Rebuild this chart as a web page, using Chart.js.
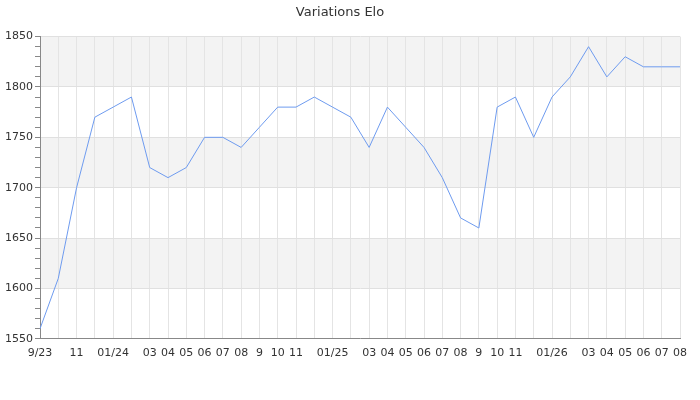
<!DOCTYPE html>
<html>
<head>
<meta charset="utf-8">
<script src="https://cdn.jsdelivr.net/npm/chart.js@4"></script>
<style>
  html, body { margin: 0; padding: 0; background: #fff; }
</style>
</head>
<body>
<canvas id="eloChart" width="700" height="400"></canvas>
<script>
// Month labels (blank ones are months the original leaves unlabelled)
const monthLabels = ["9/23", "", "11", "", "01/24", "", "03", "04", "05", "06", "07", "08",
    "9", "10", "11", "", "01/25", "", "03", "04", "05", "06", "07", "08",
    "9", "10", "11", "", "01/26", "", "03", "04", "05", "06", "07", "08"];

// Elo rating at each month
const eloValues = [1560, 1610, 1700, 1770, 1780, 1790, 1720, 1710, 1720, 1750, 1750, 1740,
    1760, 1780, 1780, 1790, 1780, 1770, 1740, 1780, 1760, 1740, 1710, 1670,
    1660, 1780, 1790, 1750, 1790, 1810, 1840, 1810, 1830, 1820, 1820, 1820];

// y range and the shaded bands
const yMin = 1550;
const yMax = 1850;
const shadedBands = [[1800, 1850], [1700, 1750], [1600, 1650]];

// draws the grey horizontal stripes behind the line
const bandPlugin = {
    id: 'bands',
    beforeDraw(chart) {
        const { ctx, chartArea, scales } = chart;
        ctx.save();
        ctx.fillStyle = '#f3f3f3';
        shadedBands.forEach(([lo, hi]) => {
            const top = scales.y.getPixelForValue(hi);
            const bottom = scales.y.getPixelForValue(lo);
            ctx.fillRect(chartArea.left, top, chartArea.right - chartArea.left, bottom - top);
        });
        ctx.restore();
    }
};

Chart.defaults.font.family = "'DejaVu Sans', sans-serif";
Chart.defaults.color = '#333';

const ctx = document.getElementById('eloChart').getContext('2d');
new Chart(ctx, {
    type: 'line',
    data: {
        labels: monthLabels,
        datasets: [{
            label: 'Elo',
            data: eloValues,
            borderColor: '#6e9bef',
            borderWidth: 1,
            pointRadius: 0,
            tension: 0,
            fill: false
        }]
    },
    options: {
        responsive: false,
        animation: false,
        devicePixelRatio: 1,
        layout: { padding: { left: 0, right: 20, top: 0, bottom: 32 } },
        plugins: {
            legend: { display: false },
            tooltip: { enabled: false },
            title: {
                display: true,
                text: 'Variations Elo',
                color: '#333',
                font: { size: 13, weight: 'normal' },
                padding: { top: 5, bottom: 16 }
            }
        },
        scales: {
            x: {
                offset: false,
                grid: {
                    color: '#e4e4e4',
                    drawTicks: false
                },
                border: { color: '#888' },
                ticks: {
                    autoSkip: false,
                    maxRotation: 0,
                    minRotation: 0,
                    padding: 8,
                    font: { size: 11 },
                    color: '#333'
                }
            },
            y: {
                min: yMin,
                max: yMax,
                afterFit(scale) { scale.width = 40; },
                grid: {
                    color: (c) => (c.tick && c.tick.value % 50 === 0) ? '#e0e0e0' : 'transparent',
                    tickColor: '#888',
                    tickLength: 5
                },
                border: { color: '#888' },
                ticks: {
                    stepSize: 10,
                    autoSkip: false,
                    padding: 2,
                    font: { size: 11 },
                    color: '#333',
                    callback: (v) => (v % 50 === 0 ? v : '')
                }
            }
        }
    },
    plugins: [bandPlugin]
});
</script>
</body>
</html>
